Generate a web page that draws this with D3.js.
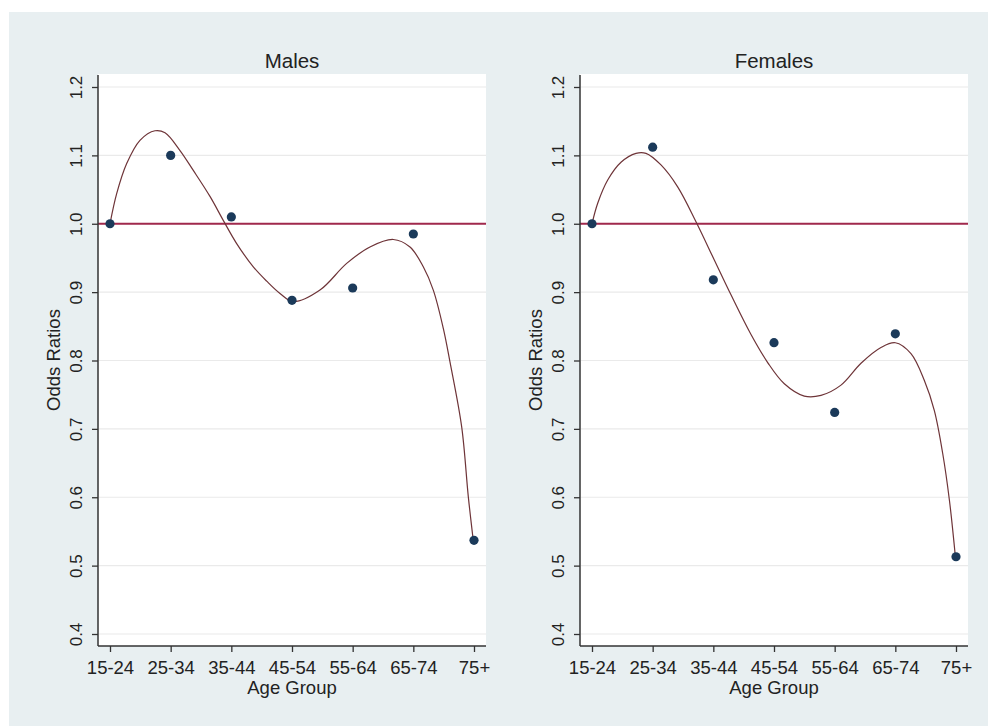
<!DOCTYPE html>
<html>
<head>
<meta charset="utf-8">
<title>Odds Ratios by Age Group</title>
<script src="https://cdn.jsdelivr.net/npm/d3@7"></script>
<style>
  body { margin: 0; background: #fff; }
  svg text { font-family: "Liberation Sans", Arial, sans-serif; fill: #222; }
</style>
</head>
<body>
<div id="chart"></div>
<script>
// ---- data ----
const ageGroups = ["15-24", "25-34", "35-44", "45-54", "55-64", "65-74", "75+"];
const yTicks = [0.4, 0.5, 0.6, 0.7, 0.8, 0.9, 1.0, 1.1, 1.2];

const maleOR = [1.0, 1.10, 1.01, 0.888, 0.906, 0.985, 0.537];
const femaleOR = [1.0, 1.112, 0.918, 0.826, 0.724, 0.839, 0.513];

// fitted curve (x = age group position 1..7)
const maleFitX = [1.0, 1.11, 1.275, 1.494, 1.742, 1.907, 2.154, 2.373, 2.648, 2.867, 3.088, 3.362, 3.583, 3.802, 4.021,
  4.461, 4.901, 5.285, 5.67, 5.945, 6.164, 6.329, 6.494, 6.604, 6.797, 6.906, 6.988];
const maleFitY = [1.0, 1.044, 1.088, 1.122, 1.136, 1.133, 1.107, 1.078, 1.04, 1.005, 0.971, 0.937, 0.916, 0.898, 0.886,
  0.903, 0.942, 0.966, 0.977, 0.966, 0.937, 0.903, 0.847, 0.798, 0.703, 0.601, 0.537];

const femaleFitX = [1.0, 1.094, 1.259, 1.478, 1.725, 1.89, 2.137, 2.412, 2.714, 3.016, 3.291, 3.621, 3.896, 4.17, 4.499,
  4.775, 5.104, 5.434, 5.763, 6.0, 6.258, 6.477, 6.642, 6.781, 6.891, 6.99];
const femaleFitY = [1.0, 1.03, 1.064, 1.09, 1.103, 1.103, 1.086, 1.054, 1.003, 0.947, 0.896, 0.838, 0.797, 0.766, 0.748,
  0.749, 0.764, 0.796, 0.819, 0.826, 0.81, 0.771, 0.727, 0.664, 0.596, 0.513];

const refValue = 1.0;

// ---- drawing ----
const W = 988, H = 726;

const svg = d3.select("#chart")
  .append("svg")
  .attr("width", W)
  .attr("height", H);

// graph region (stata-like light bluish grey)
svg.append("rect")
  .attr("x", 9).attr("y", 12)
  .attr("width", W - 9).attr("height", H - 12)
  .attr("fill", "#e8eff1");

const plotTop = 74, plotBottom = 646, plotW = 388;

const y = d3.scaleLinear().domain([0.4, 1.2]).range([634, 87]);

function drawPanel(left, title, values, fitX, fitY) {
  let g = svg.append("g");

  let x = d3.scaleLinear().domain([1, 7]).range([left + 12, left + 376]);

  // plot region
  g.append("rect")
    .attr("x", left).attr("y", plotTop)
    .attr("width", plotW).attr("height", plotBottom - plotTop)
    .attr("fill", "#fff");

  // gridlines
  g.selectAll(".grid")
    .data(yTicks)
    .enter()
    .append("line")
    .attr("class", "grid")
    .attr("x1", left + 1).attr("x2", left + plotW)
    .attr("y1", d => y(d)).attr("y2", d => y(d))
    .attr("stroke", "#eaeaea")
    .attr("stroke-width", 1.2);

  // reference line at 1
  g.append("line")
    .attr("x1", left).attr("x2", left + plotW)
    .attr("y1", y(refValue)).attr("y2", y(refValue))
    .attr("stroke", "#a0294c")
    .attr("stroke-width", 1.8);

  // fitted curve
  let fit = fitX.map((d, i) => [d, fitY[i]]);
  g.append("path")
    .datum(fit)
    .attr("fill", "none")
    .attr("stroke", "#6e3438")
    .attr("stroke-width", 1.2)
    .attr("d", d3.line()
      .x(d => x(d[0]))
      .y(d => y(d[1]))
      .curve(d3.curveCatmullRom.alpha(0.5)));

  // observed odds ratios
  g.selectAll(".dot")
    .data(values)
    .enter()
    .append("circle")
    .attr("class", "dot")
    .attr("cx", (d, i) => x(i + 1))
    .attr("cy", d => y(d))
    .attr("r", 4.6)
    .attr("fill", "#1b3a5a");

  // y axis
  let yAxis = d3.axisLeft(y).tickValues(yTicks).tickFormat(d3.format(".1f")).tickSize(6).tickPadding(0);
  let ya = g.append("g")
    .attr("transform", `translate(${left}, 0)`)
    .call(yAxis);
  ya.select(".domain").attr("d", `M0,${plotTop + 1}V${plotBottom}`).attr("stroke", "#333").attr("stroke-width", 1.5);
  ya.selectAll(".tick line").attr("stroke", "#333").attr("stroke-width", 1.3);
  ya.selectAll(".tick text")
    .attr("x", null).attr("dy", null)
    .attr("transform", "translate(-16, 0) rotate(-90)")
    .attr("text-anchor", "middle")
    .style("font-size", "17px");

  // x axis
  let xAxis = d3.axisBottom(x).tickValues(d3.range(1, 8)).tickFormat(d => ageGroups[d - 1]).tickSize(6).tickPadding(3);
  let xa = g.append("g")
    .attr("transform", `translate(0, ${plotBottom})`)
    .call(xAxis);
  xa.select(".domain").attr("d", `M${left},0H${left + plotW}`).attr("stroke", "#333").attr("stroke-width", 1.5);
  xa.selectAll(".tick line").attr("stroke", "#333").attr("stroke-width", 1.3);
  xa.selectAll(".tick text")
    .attr("dy", null)
    .attr("y", 28)
    .style("font-size", "18.5px");

  // titles
  g.append("text")
    .attr("x", left + plotW / 2)
    .attr("y", 68)
    .attr("text-anchor", "middle")
    .style("font-size", "20.5px")
    .text(title);

  g.append("text")
    .attr("x", left + plotW / 2)
    .attr("y", 694)
    .attr("text-anchor", "middle")
    .style("font-size", "18.5px")
    .text("Age Group");

  g.append("text")
    .attr("transform", `translate(${left - 38}, ${(plotTop + plotBottom) / 2}) rotate(-90)`)
    .attr("text-anchor", "middle")
    .style("font-size", "18.5px")
    .text("Odds Ratios");
}

drawPanel(98, "Males", maleOR, maleFitX, maleFitY);
drawPanel(580, "Females", femaleOR, femaleFitX, femaleFitY);
</script>
</body>
</html>
